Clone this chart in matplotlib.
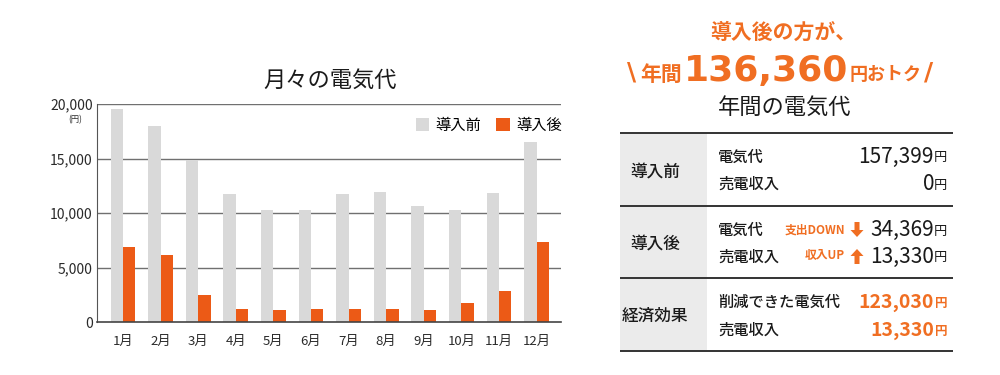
import matplotlib
matplotlib.use("Agg")
import matplotlib.pyplot as plt
import numpy as np
from matplotlib.patches import Rectangle, FancyArrow

plt.rcParams['font.family'] = ['Noto Sans CJK JP', 'DejaVu Sans']

months = ["1月", "2月", "3月", "4月", "5月", "6月", "7月", "8月", "9月", "10月", "11月", "12月"]
before = [19500, 18000, 14900, 11700, 10300, 10300, 11700, 11900, 10600, 10300, 11800, 16500]
after = [6870, 6170, 2500, 1220, 1100, 1160, 1160, 1220, 1100, 1770, 2810, 7300]
yticks = [0, 5000, 10000, 15000, 20000]
series_names = ["導入前", "導入後"]

GRAY = "#d9d9d9"
ORANGE = "#ec5a16"
OTXT = "#f06e22"
DARK = "#2a2a2a"

W, H = 1000, 375
fig = plt.figure(figsize=(10, 3.75), dpi=100)

# overlay axes in pixel coordinates for the right panel
ov = fig.add_axes([0, 0, 1, 1])
ov.set_xlim(0, W)
ov.set_ylim(H, 0)
ov.axis("off")

# chart axes: left 97, right 561, top 104, bottom 322
ax = fig.add_axes([97 / W, 1 - 322 / H, (561 - 97) / W, (322 - 104) / H])
x = np.arange(len(months))
bw = 0.33
ax.bar(x - bw / 2, before, bw, color=GRAY, zorder=2, label=series_names[0])
ax.bar(x + bw / 2, after, bw, color=ORANGE, zorder=2, label=series_names[1])
ax.set_xlim(-0.69, 11.65)
ax.set_ylim(0, 20000)
ax.set_yticks(yticks)
ax.set_yticklabels([f"{v:,}" for v in yticks], fontsize=10, color=DARK)
ax.set_xticks(x)
ax.set_xticklabels(months, fontsize=9.5, color=DARK)
ax.tick_params(axis='both', length=0)
ax.tick_params(axis='y', pad=3)
ax.tick_params(axis='x', pad=9)
for v in yticks[1:]:
    ax.axhline(v, color="#707070", lw=1.0, zorder=1)
for s in ["top", "right"]:
    ax.spines[s].set_visible(False)
ax.spines["left"].set_color("#555555")
ax.spines["left"].set_linewidth(0.8)
ax.spines["bottom"].set_color("#444444")
ax.spines["bottom"].set_linewidth(1.2)
ax.set_facecolor("none")

leg = ax.legend(loc="upper right", bbox_to_anchor=(1.022, 0.985), ncol=2, frameon=False,
                fontsize=11, handlelength=0.9, handleheight=0.9, handletextpad=0.4,
                columnspacing=1.0, borderaxespad=0.2)

ov.text(75, 120, "(円)", fontsize=6, ha="center", va="center", color=DARK)
ov.text(330, 80, "月々の電気代", fontsize=16, ha="center", va="center", color="#1a1a1a")

# right panel header
ov.text(783, 32, "導入後の方が、", fontsize=15, fontweight="bold", ha="center", va="center", color=OTXT)

fig.canvas.draw()
renderer = fig.canvas.get_renderer()
parts = [
    ("\\", dict(fontsize=18, fontweight="bold", family="DejaVu Sans"), 73, 4),
    ("年間", dict(fontsize=15, fontweight="bold"), 74, 2),
    ("136,360", dict(fontsize=26, fontweight="bold", family="DejaVu Sans"), 71, 1),
    ("円おトク", dict(fontsize=13, fontweight="bold"), 74, 3),
    ("/", dict(fontsize=18, fontweight="bold", family="DejaVu Sans"), 73, 0),
]
cur = 627
for txt, kw, yy, gap in parts:
    t = ov.text(cur, yy, txt, ha="left", va="center", color=OTXT, **kw)
    bb = t.get_window_extent(renderer)
    cur += bb.width + gap

ov.text(785, 107, "年間の電気代", fontsize=16, ha="center", va="center", color="#1a1a1a")

# table
tx0, tx1, tcol = 620, 953, 707
rows_y = [133, 206, 278, 351]
for i in range(3):
    ov.add_patch(Rectangle((tx0, rows_y[i]), tcol - tx0, rows_y[i + 1] - rows_y[i],
                           facecolor="#ebebeb", edgecolor="none", zorder=0))
for yy in rows_y:
    ov.plot([tx0, tx1], [yy, yy], color="#333333", lw=1.4, solid_capstyle="butt")

row_labels = ["導入前", "導入後", "経済効果"]
row_centers = [171, 244, 316]
for lab, yc in zip(row_labels, row_centers):
    ov.text(655, yc, lab, fontsize=12, fontweight="medium", ha="center", va="center", color="#1a1a1a")

items = [
    ("電気代", "157,399", False, 157),
    ("売電収入", "0", False, 184),
    ("電気代", "34,369", False, 230),
    ("売電収入", "13,330", False, 257),
    ("削減できた電気代", "123,030", True, 302),
    ("売電収入", "13,330", True, 330),
]
for lab, val, hl, yy in items:
    ov.text(718, yy, lab, fontsize=11, fontweight="medium", ha="left", va="center", color="#1a1a1a")
    if hl:
        ov.text(934, yy, val, fontsize=14, fontweight="bold", ha="right", va="center", color=OTXT)
        ov.text(947, yy + 1, "円", fontsize=9, fontweight="bold", ha="right", va="center", color=OTXT)
    else:
        ov.text(934, yy, val, fontsize=15, ha="right", va="center", color="#1a1a1a")
        ov.text(947, yy + 1, "円", fontsize=9.5, ha="right", va="center", color="#1a1a1a")

ov.text(845, 230, "支出DOWN", fontsize=8.5, fontweight="bold", ha="right", va="center", color=OTXT)
ov.text(845, 256, "収入UP", fontsize=8.5, fontweight="bold", ha="right", va="center", color=OTXT)
# block arrows
ov.add_patch(FancyArrow(857, 222, 0, 15, width=5, head_width=13, head_length=7,
                        length_includes_head=True, color=OTXT, lw=0))
ov.add_patch(FancyArrow(857, 264, 0, -15, width=5, head_width=13, head_length=7,
                        length_includes_head=True, color=OTXT, lw=0))

fig.savefig("out.png", dpi=100, facecolor="white")
